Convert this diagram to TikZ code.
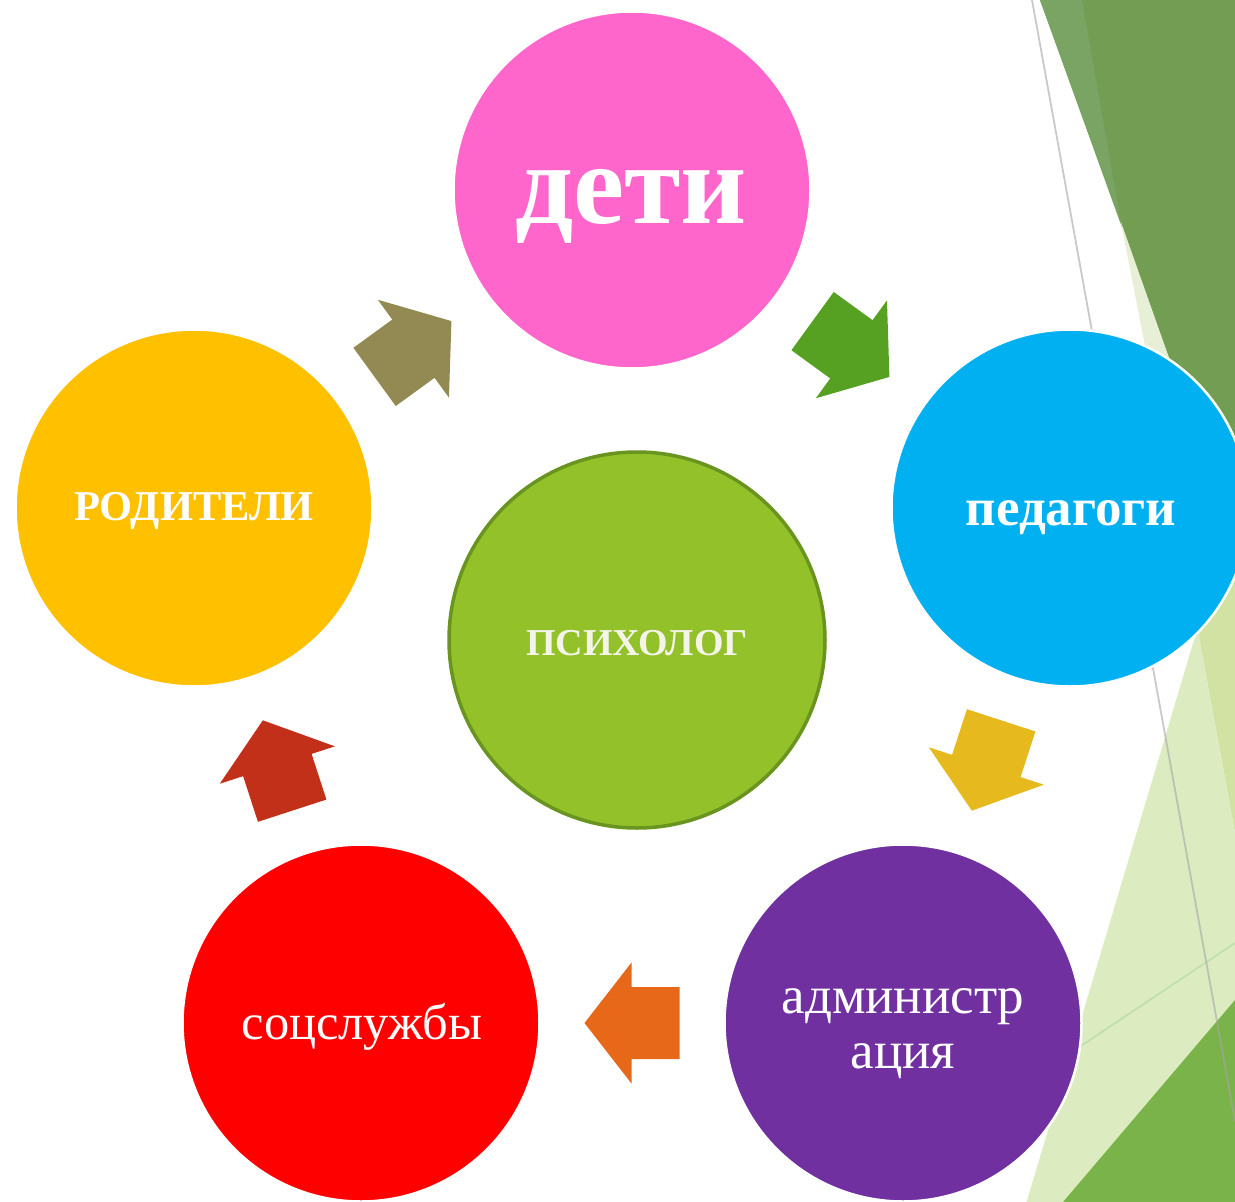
\documentclass[tikz,border=0pt]{standalone}
\usepackage{fontspec}
\setmainfont{Liberation Serif}
\usetikzlibrary{calc}
\definecolor{cpink}{HTML}{FF66CC}
\definecolor{cblue}{HTML}{00B0F0}
\definecolor{cpurple}{HTML}{7030A0}
\definecolor{cred}{HTML}{FF0000}
\definecolor{cyellow}{HTML}{FFC000}
\definecolor{cpsy}{HTML}{93C12A}
\definecolor{cpsyb}{HTML}{6A9420}
\definecolor{aolive}{HTML}{938953}
\definecolor{agreen}{HTML}{56A022}
\definecolor{ayellow}{HTML}{E6B91E}
\definecolor{aorange}{HTML}{E8681A}
\definecolor{ared}{HTML}{C3301A}
\definecolor{bgdark}{HTML}{729D52}
\definecolor{bgband}{HTML}{7AA464}
\definecolor{bgpale}{HTML}{E7F0D6}
\definecolor{bglight}{HTML}{D1E2A3}
\definecolor{bgpaler}{HTML}{DDEBC1}
\definecolor{bgbottom}{HTML}{7BB34B}
\definecolor{psytext}{HTML}{F4F4EA}
\tikzset{
  circ/.style={circle, inner sep=0pt, minimum size=357pt, draw=white, line width=2.5pt},
  lbl/.style={text=white, inner sep=0pt, anchor=base},
  blockarr/.pic={\fill[pic actions] (-47.5,-36) -- (0.5,-36) -- (0.5,-60.5) -- (47.5,0) -- (0.5,60.5) -- (0.5,36) -- (-47.5,36) -- cycle;},
  bgline/.style={line width=1.8pt, draw=gray!70, opacity=0.6}
}
\begin{document}
\begin{tikzpicture}[x=1pt,y=-1pt]
\useasboundingbox (0,0) rectangle (1235,1202);
\fill[white] (0,0) rectangle (1235,1202);
\begin{scope}
\clip (0,0) rectangle (1235,1202);
% background facets
\fill[bglight] (1082,0) -- (1235,0) -- (1235,833) -- cycle;
\fill[bgdark] (1040,0) -- (1235,0) -- (1235,541) -- cycle;
\fill[bgband] (1040,0) -- (1082,0) -- (1120.6,221) -- cycle;
\fill[bgpale] (1120.6,221) -- (1180,389) -- (1155.6,400) -- cycle;
\fill[bgpaler] (1197.6,628) -- (1235,833) -- (1235,1202) -- (1026.6,1202) -- cycle;
\fill[bgbottom] (1235,1000) -- (1235,1202) -- (1063,1202) -- cycle;
\draw[bgline] (1032,0) -- (1235,1121);
\draw[line width=1.6pt, draw=gray!60!green!60, opacity=0.45] (1000,1100) -- (1235,943);
% circles
\node[circ, fill=cpink] (deti) at (632,190) {};
\node[circ, fill=cblue] (ped) at (1070,508) {};
\node[circ, fill=cpurple] (adm) at (903,1023) {};
\node[circ, fill=cred] (soc) at (361,1023) {};
\node[circ, fill=cyellow] (rod) at (194,508) {};
\node[circle, inner sep=0pt, minimum size=376pt, fill=cpsy, draw=cpsyb, line width=3.5pt] (psy) at (637,640) {};
\end{scope}
% arrows
\pic[fill=aolive, rotate=36] at ($(rod)!0.5!(deti)$) {blockarr};
\pic[fill=agreen, rotate=-36] at ($(deti)!0.5!(ped)$) {blockarr};
\pic[fill=ayellow, rotate=-108] at ($(ped)!0.5!(adm)$) {blockarr};
\pic[fill=aorange, rotate=180] at ($(adm)!0.5!(soc)$) {blockarr};
\pic[fill=ared, rotate=108] at ($(soc)!0.5!(rod)$) {blockarr};
% labels
\node[lbl, font=\bfseries\fontsize{115}{120}\selectfont] (tdeti) at (631,223) {дети};
\node[lbl, font=\bfseries\fontsize{53}{60}\selectfont] (tped) at (1071,525) {педагоги};
\node[lbl, font=\bfseries\fontsize{42.5}{48}\selectfont] (trod) at (194,520) {РОДИТЕЛИ};
\node[lbl, text=psytext, font=\bfseries\fontsize{38}{44}\selectfont] (tpsy) at (637,655) {ПСИХОЛОГ};
\node[lbl, font=\fontsize{50.5}{56}\selectfont] (tsoc) at (362,1039) {соцслужбы};
\node[lbl, font=\fontsize{53}{56}\selectfont] (tadm1) at (903,1013) {администр};
\node[lbl, font=\fontsize{53}{56}\selectfont] (tadm2) at (903,1068) {ация};
\end{tikzpicture}
\end{document}
